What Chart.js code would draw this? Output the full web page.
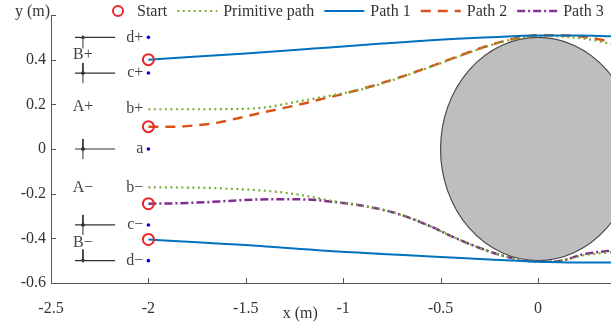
<!DOCTYPE html>
<html>
<head>
<meta charset="utf-8">
<script src="https://cdn.jsdelivr.net/npm/chart.js@4.4.1/dist/chart.umd.min.js"></script>
<style>
  html, body { margin: 0; padding: 0; background: #fff; }
  #wrap { width: 611px; height: 326px; }
</style>
</head>
<body>
<div id="wrap"><canvas id="chart"></canvas></div>
<script>
// ----- data (metres) -----
const startX = [-2, -2, -2, -2];
const startY = [0.40, 0.10, -0.245, -0.405];

// goal points on the left and their names
const goalLabels = ['d+', 'c+', 'b+', 'a', 'b−', 'c−', 'd−'];
const goalY = [0.50, 0.34, 0.178, 0, -0.172, -0.34, -0.50];
const goalDotY = [0.50, 0.34, 0, -0.34, -0.50];

// lane names between the reference lines
const regionLabels = ['B+', 'A+', 'A−', 'B−'];
const regionY = [0.42, 0.19, -0.175, -0.42];

// short reference lines + arrows at the far left
const boundX = [-2.377, -2.171];
const boundY = [0.50, 0.34, 0, -0.34, -0.50];
const arrowX = -2.336;
const arrowTailY = [0.45, 0.385, 0.295, 0.045, -0.045, -0.295, -0.385, -0.45];
const arrowTipY  = [0.50, 0.34, 0.34, 0, 0, -0.34, -0.34, -0.50];

// obstacle (circle in data units)
const obstacleX = 0, obstacleY = 0, obstacleR = 0.5;

// Path 1 (upper and lower branch share x)
const path1X = [-2, -1.75, -1.5, -1.25, -1.07, -0.8, -0.55, -0.25, 0, 0.2, 0.375];
const path1UpY = [0.40, 0.414, 0.428, 0.443, 0.455, 0.472, 0.487, 0.500, 0.508, 0.508, 0.505];
const path1LoY = [-0.405, -0.418, -0.43, -0.445, -0.457, -0.470, -0.481, -0.495, -0.505, -0.508, -0.508];

// primitive path
const primUpX = [-2, -1.75, -1.5, -1.4, -1.32, -1.22, -1.12, -1.03, -0.9, -0.72, -0.55, -0.42, -0.3, -0.18, -0.09, 0, 0.15, 0.28, 0.375];
const primUpY = [0.178, 0.178, 0.18, 0.186, 0.198, 0.215, 0.23, 0.245, 0.268, 0.316, 0.368, 0.41, 0.448, 0.48, 0.498, 0.506, 0.502, 0.488, 0.47];
const primLoX = [-2, -1.75, -1.53, -1.36, -1.19, -1.03, -0.9, -0.72, -0.55, -0.42, -0.3, -0.18, -0.09, 0, 0.12, 0.23, 0.375];
const primLoY = [-0.172, -0.173, -0.18, -0.19, -0.21, -0.237, -0.254, -0.29, -0.347, -0.4, -0.443, -0.478, -0.495, -0.505, -0.5, -0.477, -0.462];

// Path 2 (upper)
const path2X = [-2, -1.87, -1.77, -1.65, -1.54, -1.44, -1.34, -1.22, -1.12, -1.03, -0.9, -0.72, -0.55, -0.42, -0.3, -0.18, -0.09, 0, 0.15, 0.28, 0.375];
const path2Y = [0.10, 0.10, 0.105, 0.117, 0.138, 0.158, 0.177, 0.20, 0.222, 0.24, 0.27, 0.318, 0.37, 0.412, 0.45, 0.482, 0.5, 0.509, 0.508, 0.496, 0.48];

// Path 3 (lower)
const path3X = [-2, -1.85, -1.7, -1.54, -1.36, -1.18, -1.07, -0.9, -0.72, -0.55, -0.42, -0.3, -0.18, -0.09, 0, 0.12, 0.23, 0.375];
const path3Y = [-0.245, -0.243, -0.238, -0.23, -0.225, -0.226, -0.235, -0.254, -0.29, -0.347, -0.4, -0.443, -0.478, -0.495, -0.505, -0.5, -0.472, -0.455];

const legendLabels = ['Start', 'Primitive path', 'Path 1', 'Path 2', 'Path 3'];

// ----- helpers -----
const FONT = '"Liberation Serif", "Times New Roman", serif';
const zip = (xs, ys) => xs.map((x, i) => ({ x, y: ys[i] }));

const C = {
  start: '#e8262b',
  prim: '#77ac30',
  p1: '#0072bd',
  p2: '#d95319',
  p3: '#7e2f8e',
  goal: '#0000ee',
  ink: '#333'
};

function pathDs(label, pts, color, width, dash) {
  return {
    label, data: pts, showLine: true,
    borderColor: color, backgroundColor: color,
    borderWidth: width, borderDash: dash,
    pointRadius: 0, cubicInterpolationMode: 'monotone'
  };
}

const datasets = [];

datasets.push({
  label: 'Start', data: zip(startX, startY),
  pointStyle: 'circle', pointRadius: 5.5,
  borderColor: C.start, borderWidth: 2, backgroundColor: 'rgba(0,0,0,0)'
});
datasets.push({
  label: 'goal', data: goalDotY.map(y => ({ x: -2, y })),
  pointRadius: 1.8, borderWidth: 0, backgroundColor: C.goal
});
datasets.push(pathDs('Path 1', zip(path1X, path1UpY), C.p1, 2, []));
datasets.push(pathDs('Path 1', zip(path1X, path1LoY), C.p1, 2, []));
datasets.push(pathDs('Primitive path', zip(primUpX, primUpY), C.prim, 2.2, [2, 3.5]));
datasets.push(pathDs('Primitive path', zip(primLoX, primLoY), C.prim, 2.2, [2, 3.5]));
datasets.push(pathDs('Path 2', zip(path2X, path2Y), C.p2, 2.5, [10, 7]));
datasets.push(pathDs('Path 3', zip(path3X, path3Y), C.p3, 2.5, [8, 3, 2, 3]));

boundY.forEach(y => {
  datasets.push({
    label: 'bound', data: boundX.map(x => ({ x, y })), showLine: true,
    borderColor: C.ink, borderWidth: 1.2, pointRadius: 0
  });
});
arrowTailY.forEach((tail, i) => {
  const tip = arrowTipY[i];
  datasets.push({
    label: 'arrow', data: [{ x: arrowX, y: tail }, { x: arrowX, y: tip }], showLine: true,
    borderColor: C.ink, backgroundColor: C.ink, borderWidth: 1,
    pointStyle: 'triangle', pointRadius: [0, 1.7], pointRotation: tip > tail ? 0 : 180
  });
});

// obstacle, inward ticks, text labels and the legend
const overlay = {
  id: 'overlay',
  beforeDatasetsDraw(chart) {
    const { ctx, chartArea: a, scales: { x, y } } = chart;
    const cx = x.getPixelForValue(obstacleX), cy = y.getPixelForValue(obstacleY);
    const rx = x.getPixelForValue(obstacleX + obstacleR) - cx;
    const ry = cy - y.getPixelForValue(obstacleY + obstacleR);
    ctx.save();
    ctx.beginPath();
    ctx.rect(a.left, a.top, a.right - a.left, a.bottom - a.top);
    ctx.clip();
    ctx.beginPath();
    ctx.ellipse(cx, cy, rx, ry, 0, 0, Math.PI * 2);
    ctx.fillStyle = '#bebebe';
    ctx.fill();
    ctx.strokeStyle = '#4a4a4a';
    ctx.lineWidth = 1.2;
    ctx.stroke();
    ctx.restore();
  },
  afterDraw(chart) {
    const { ctx, chartArea: a, scales: { x, y } } = chart;
    ctx.save();
    // ticks pointing into the plot
    ctx.strokeStyle = '#555';
    ctx.lineWidth = 1;
    x.ticks.forEach(t => {
      const px = Math.round(x.getPixelForValue(t.value)) + 0.5;
      ctx.beginPath(); ctx.moveTo(px, a.bottom); ctx.lineTo(px, a.bottom - 5); ctx.stroke();
    });
    y.ticks.forEach(t => {
      const py = Math.round(y.getPixelForValue(t.value)) + 0.5;
      ctx.beginPath(); ctx.moveTo(a.left, py); ctx.lineTo(a.left + 5, py); ctx.stroke();
    });

    ctx.font = '16px ' + FONT;
    ctx.fillStyle = '#444';
    ctx.textBaseline = 'middle';
    // goal names
    ctx.textAlign = 'right';
    goalLabels.forEach((s, i) => ctx.fillText(s, x.getPixelForValue(-2) - 5, y.getPixelForValue(goalY[i])));
    // lane names
    ctx.textAlign = 'center';
    regionLabels.forEach((s, i) => ctx.fillText(s, x.getPixelForValue(arrowX), y.getPixelForValue(regionY[i])));

    // axis titles
    ctx.fillStyle = C.ink;
    ctx.textAlign = 'right';
    ctx.fillText('y (m)', a.left - 1, 12);
    ctx.textAlign = 'center';
    ctx.fillText('x (m)', x.getPixelForValue(-1.22), a.bottom + 31);

    // legend
    let lx = 107;
    const ly = 11;
    ctx.textAlign = 'left';
    legendLabels.forEach(name => {
      const ds = chart.data.datasets.find(d => d.label === name);
      if (name === 'Start') {
        ctx.beginPath();
        ctx.arc(lx + 11, ly, 5, 0, Math.PI * 2);
        ctx.strokeStyle = ds.borderColor;
        ctx.lineWidth = 2;
        ctx.setLineDash([]);
        ctx.stroke();
        lx += 24;
      } else {
        ctx.beginPath();
        ctx.moveTo(lx, ly); ctx.lineTo(lx + 40, ly);
        ctx.strokeStyle = ds.borderColor;
        ctx.lineWidth = ds.borderWidth;
        ctx.setLineDash(ds.borderDash);
        ctx.stroke();
        ctx.setLineDash([]);
        lx += 40;
      }
      lx += 6;
      ctx.fillStyle = C.ink;
      ctx.fillText(name, lx, ly + 1);
      lx += ctx.measureText(name).width + 10;
    });
    ctx.restore();
  }
};

const tickFont = { family: FONT, size: 16 };
const fmt = v => Math.round(v * 10) / 10;

new Chart(document.getElementById('chart'), {
  type: 'scatter',
  data: { datasets },
  options: {
    responsive: true,
    maintainAspectRatio: false,
    animation: false,
    events: [],
    layout: { autoPadding: false, padding: { top: 15, right: 0, left: 0, bottom: 0 } },
    plugins: { legend: { display: false }, tooltip: { enabled: false } },
    scales: {
      x: {
        type: 'linear', min: -2.5, max: 0.375,
        grid: { display: false, drawTicks: false },
        border: { color: '#555', width: 1 },
        ticks: { stepSize: 0.5, includeBounds: false, padding: 16, color: C.ink, font: tickFont, callback: fmt },
        afterFit(scale) { scale.height = 43; scale.paddingLeft = 0; scale.paddingRight = 0; }
      },
      y: {
        type: 'linear', min: -0.6, max: 0.6,
        grid: { display: false, drawTicks: false },
        border: { color: '#555', width: 1 },
        ticks: {
          stepSize: 0.2, padding: 5, color: C.ink, font: tickFont,
          callback: v => (v > 0.59 ? '' : fmt(v))
        },
        afterFit(scale) { scale.width = 51; }
      }
    }
  },
  plugins: [overlay]
});
</script>
</body>
</html>
